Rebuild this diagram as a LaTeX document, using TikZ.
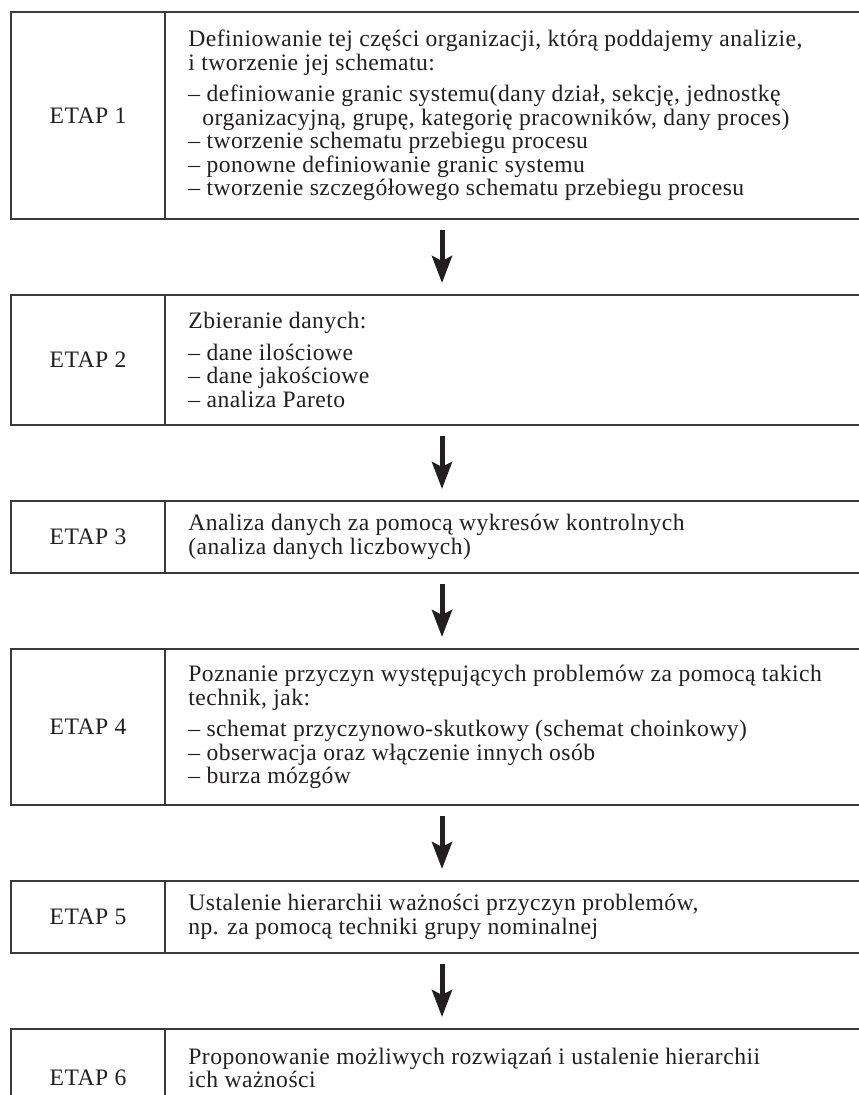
\documentclass[tikz,border=0pt]{standalone}
\usepackage{fontspec}
\setmainfont{Liberation Serif}[LetterSpace=2]
\usetikzlibrary{arrows.meta}
\definecolor{ink}{HTML}{231F20}
\definecolor{rule}{HTML}{3A3A3A}
\begin{document}
\begin{tikzpicture}[x=0.5pt,y=-0.5pt,
  stage/.style={rectangle, inner sep=0pt, outer sep=0pt, minimum width=431pt},
  boxline/.style={draw=rule, line width=0.6pt},
  etap/.style={inner sep=0pt, text=ink, font=\fontsize{11.8pt}{11.75pt}\selectfont},
  body/.style={inner sep=0pt, anchor=west, align=left, text=ink, font=\fontsize{11.8pt}{11.75pt}\selectfont},
  arr/.style={draw=ink, line width=2.5pt, -{Stealth[length=13.5pt,width=10pt,inset=2.5pt]}, shorten <=5.5pt, shorten >=6pt}]
\useasboundingbox (0,0) rectangle (858,1095);
\fill[white] (0,0) rectangle (858,1095);

% stage frames (right side lies beyond the picture edge)
\node[stage, minimum height=103.5pt] (st1) at (442,115.5) {};
\node[stage, minimum height=65pt]    (st2) at (442,360) {};
\node[stage, minimum height=36pt]    (st3) at (442,537) {};
\node[stage, minimum height=78pt]    (st4) at (442,727) {};
\node[stage, minimum height=36pt]    (st5) at (442,917) {};
\node[stage, minimum height=49pt]    (st6) at (442,1078) {};

\foreach \s in {st1,st2,st3,st4,st5,st6}{
  \draw[boxline] (\s.north west) rectangle (\s.south east);
  \draw[boxline] ([xshift=77pt]\s.north west) -- ([xshift=77pt]\s.south west);
}

% labels
\node[etap] (e1) at ([xshift=38.5pt]st1.west) {ETAP 1};
\node[etap] (e2) at ([xshift=38.5pt]st2.west) {ETAP 2};
\node[etap] (e3) at ([xshift=38.5pt]st3.west) {ETAP 3};
\node[etap] (e4) at ([xshift=38.5pt]st4.west) {ETAP 4};
\node[etap] (e5) at ([xshift=38.5pt]st5.west) {ETAP 5};
\node[etap] (e6) at ([xshift=38.5pt]st6.west) {ETAP 6};

% texts
\node[body] (t1) at ([xshift=88.5pt]st1.west) {Definiowanie tej części organizacji, którą poddajemy analizie,\\
i tworzenie jej schematu:\\[4pt]
– definiowanie granic systemu(dany dział, sekcję, jednostkę\\
\hspace*{7pt}organizacyjną, grupę, kategorię pracowników, dany proces)\\
– tworzenie schematu przebiegu procesu\\
– ponowne definiowanie granic systemu\\
– tworzenie szczegółowego schematu przebiegu procesu};
\node[body] (t2) at ([xshift=88.5pt]st2.west) {Zbieranie danych:\\[4pt]
– dane ilościowe\\
– dane jakościowe\\
– analiza Pareto};
\node[body] (t3) at ([xshift=88.5pt]st3.west) {Analiza danych za pomocą wykresów kontrolnych\\
(analiza danych liczbowych)};
\node[body] (t4) at ([xshift=88.5pt]st4.west) {Poznanie przyczyn występujących problemów za pomocą takich\\
technik, jak:\\[4pt]
– schemat przyczynowo-skutkowy (schemat choinkowy)\\
– obserwacja oraz włączenie innych osób\\
– burza mózgów};
\node[body] (t5) at ([xshift=88.5pt]st5.west) {Ustalenie hierarchii ważności przyczyn problemów,\\
np. za pomocą techniki grupy nominalnej};
\node[body] (t6) at ([xshift=88.5pt,yshift=5pt]st6.west) {Proponowanie możliwych rozwiązań i ustalenie hierarchii\\
ich ważności};

% arrows
\draw[arr] (st1.south) -- (st2.north);
\draw[arr] (st2.south) -- (st3.north);
\draw[arr] (st3.south) -- (st4.north);
\draw[arr] (st4.south) -- (st5.north);
\draw[arr] (st5.south) -- (st6.north);
\end{tikzpicture}
\end{document}
